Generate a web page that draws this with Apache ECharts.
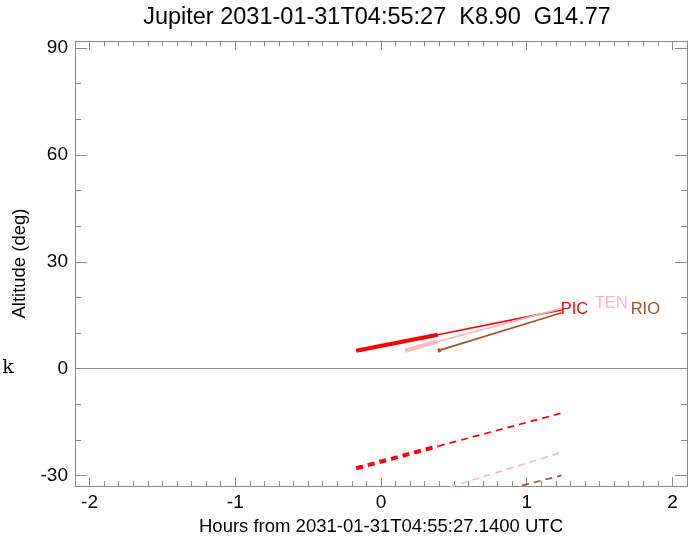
<!DOCTYPE html>
<html>
<head>
<meta charset="utf-8">
<script src="https://cdn.jsdelivr.net/npm/echarts@6/dist/echarts.min.js"></script>
<style>html,body{margin:0;padding:0;background:#fff}#c{width:694px;height:541px}</style>
</head>
<body>
<div id="c"></div>
<script>
// ---- data ----
const titleText = 'Jupiter 2031-01-31T04:55:27  K8.90  G14.77';
const xName = 'Hours from 2031-01-31T04:55:27.1400 UTC';
const yName = 'Altitude (deg)';
const stations = ['PIC', 'TEN', 'RIO'];
const stationColors = ['#ff0000', '#ffb6c1', '#a0522d'];
// hours from reference time (first segment drawn thick up to splitIndex)
const hoursPIC = [-0.17, 0.39, 1.24];
const altPIC = [5.0, 9.5, 16.5];
const lowPIC = [-28.0, -21.8, -12.5];
const hoursTEN = [0.165, 0.39, 1.24];
const altTEN = [5.0, 7.6, 16.9];
const lowTEN = [-37.3, -34.3, -23.5];
const hoursRIO = [0.39, 0.41, 1.24];
const altRIO = [5.0, 5.25, 15.7];
const lowRIO = [-38.8, -38.6, -30.0];
const splitIndex = 1;
const xRange = [-2.1, 2.1];
const yRange = [-33, 92];

const hoursAll = [hoursPIC, hoursTEN, hoursRIO];
const altAll = [altPIC, altTEN, altRIO];
const lowAll = [lowPIC, lowTEN, lowRIO];
const labelOffsets = [[-3, 0], [31, -5], [67, -3]];

const axisColor = '#8a8a8a';
const FONT = 'Liberation Sans';

function pairs(xs, ys, a, b) {
  const out = [];
  for (let i = a; i <= b; i++) out.push([xs[i], ys[i]]);
  return out;
}

const series = [];
stations.forEach((name, k) => {
  const xs = hoursAll[k], n = xs.length - 1, col = stationColors[k];
  series.push({
    type: 'line', name: name + '_thick', data: pairs(xs, altAll[k], 0, splitIndex),
    symbol: 'none', clip: true, lineStyle: { color: col, width: 4, cap: 'butt' }, z: 3
  });
  series.push({
    type: 'line', name: name, data: pairs(xs, altAll[k], splitIndex, n),
    symbol: 'none', clip: true, lineStyle: { color: col, width: 1.7 }, z: 3,
    endLabel: {
      show: true, formatter: name, color: col, fontFamily: FONT, fontSize: 16.5,
      distance: 2, offset: labelOffsets[k]
    }
  });
  series.push({
    type: 'line', name: name + '_low_thick', data: pairs(xs, lowAll[k], 0, splitIndex),
    symbol: 'none', clip: true, lineStyle: { color: col, width: 4, type: [7, 5] }, z: 3
  });
  series.push({
    type: 'line', name: name + '_low', data: pairs(xs, lowAll[k], splitIndex, n),
    symbol: 'none', clip: true, lineStyle: { color: col, width: 1.7, type: [7, 5] }, z: 3
  });
});
// horizon line
series.push({
  type: 'line', data: [], symbol: 'none',
  markLine: {
    silent: true, symbol: 'none', label: { show: false },
    lineStyle: { color: axisColor, width: 1, type: 'solid' },
    data: [{ yAxis: 0 }]
  }
});

function xAxisCfg(pos, showLabels) {
  return {
    type: 'value', position: pos, min: xRange[0], max: xRange[1], splitNumber: 4,
    name: showLabels ? xName : '', nameLocation: 'middle', nameGap: 24,
    nameTextStyle: { fontFamily: FONT, fontSize: 18.5, color: '#000' },
    axisLine: { show: true, onZero: false, lineStyle: { color: axisColor, width: 1 } },
    axisTick: { show: true, inside: true, length: 9, lineStyle: { color: axisColor } },
    minorTick: { show: true, splitNumber: 10, length: 5, lineStyle: { color: axisColor } },
    axisLabel: { show: showLabels, showMinLabel: false, showMaxLabel: false, margin: 7,
      fontFamily: FONT, fontSize: 19, color: '#000' },
    splitLine: { show: false }
  };
}
function yAxisCfg(pos, showLabels) {
  return {
    type: 'value', position: pos, min: yRange[0], max: yRange[1], splitNumber: 4,
    name: showLabels ? yName : '', nameLocation: 'middle', nameGap: 46,
    nameTextStyle: { fontFamily: FONT, fontSize: 18.5, color: '#000' },
    axisLine: { show: true, onZero: false, lineStyle: { color: axisColor, width: 1 } },
    axisTick: { show: true, inside: true, length: 12, lineStyle: { color: axisColor } },
    minorTick: { show: true, splitNumber: 3, length: 6, lineStyle: { color: axisColor } },
    axisLabel: { show: showLabels, showMinLabel: false, showMaxLabel: false, margin: 7,
      fontFamily: FONT, fontSize: 19, color: '#000' },
    splitLine: { show: false }
  };
}

const chart = echarts.init(document.getElementById('c'), null, { renderer: 'canvas' });
chart.setOption({
  animation: false,
  backgroundColor: '#fff',
  grid: { left: 75, right: 7, top: 41, bottom: 50, containLabel: false },
  xAxis: [xAxisCfg('bottom', true), xAxisCfg('top', false)],
  yAxis: [yAxisCfg('left', true), yAxisCfg('right', false)],
  graphic: [
    { type: 'text', x: 377, y: 18, style: { text: titleText, align: 'center', verticalAlign: 'middle',
      font: '23.5px "Liberation Sans"', fill: '#000' } },
    { type: 'text', x: 8, y: 368, style: { text: 'k', align: 'center', verticalAlign: 'middle',
      font: '19px "DejaVu Serif"', fill: '#000' } }
  ],
  series: series
});
</script>
</body>
</html>
